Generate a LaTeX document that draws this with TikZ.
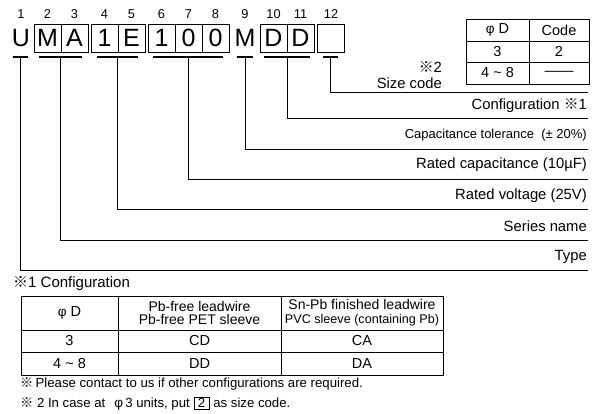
\documentclass[tikz,border=0pt]{standalone}
\usepackage{fontspec}
\setmainfont{Liberation Sans}
\newfontfamily\cjkfont{Noto Sans CJK JP}
\newcommand{\rmk}{{\cjkfont ※}}
\newcommand{\phis}{{\fontsize{13.5}{12}\selectfont φ}}
\begin{document}
\begin{tikzpicture}[x=1pt,y=-1pt,
  digit/.style={font=\fontsize{12.8}{14}\selectfont, inner sep=0pt},
  code/.style={font=\fontsize{25}{28}\selectfont, minimum width=27pt, minimum height=28pt, inner sep=0pt},
  codebox/.style={code, draw, line width=0.8pt},
  uline/.style={fill=black, minimum height=1.7pt, inner sep=0pt},
  conn/.style={line width=0.9pt},
  lbl/.style={font=\fontsize{14.8}{16}\selectfont, anchor=east, inner sep=0pt},
  tbl/.style={line width=0.8pt},
  ttxt/.style={font=\fontsize{14.5}{16}\selectfont, inner sep=0pt},
  htxt/.style={font=\fontsize{14}{13.6}\selectfont, inner sep=0pt, align=center},
  note/.style={font=\fontsize{13.2}{15}\selectfont, anchor=west, inner sep=0pt}]
\useasboundingbox (0,0) rectangle (602,414);

% digits
\foreach \n/\x in {1/21,2/47.5,3/74.5,4/104.5,5/131.5,6/161.5,7/188.5,8/215.5,9/245,10/273.5,11/300.5,12/331}
  \node[digit] (d\n) at (\x,14) {\n};

% code letters
\node[code] (cU) at (21,38) {U};
\node[codebox] (cM) at (47.5,38) {M};
\node[codebox] (cA) at (74.5,38) {A};
\node[codebox] (c1) at (104.5,38) {1};
\node[codebox] (cE) at (131.5,38) {E};
\node[codebox] (c6) at (161.5,38) {1};
\node[codebox] (c7) at (188.5,38) {0};
\node[codebox] (c8) at (215.5,38) {0};
\node[code] (c9) at (245,38) {M};
\node[codebox] (c10) at (273.5,38) {D};
\node[codebox] (c11) at (300.5,38) {D};
\node[codebox] (c12) at (331,38) {};

% underlines
\node[uline, minimum width=15pt] (ulU) at (20.5,57) {};
\node[uline, minimum width=43pt] (ulMA) at (60.5,57) {};
\node[uline, minimum width=41pt] (ul1E) at (117.5,57) {};
\node[uline, minimum width=70pt] (ul100) at (188,57) {};
\node[uline, minimum width=16pt] (ulM) at (245,57) {};
\node[uline, minimum width=46pt] (ulDD) at (287,57) {};
\node[uline, minimum width=15pt] (ul12) at (330.5,57) {};

% connector ends
\coordinate (eSize) at (588,92);
\coordinate (eCfg) at (588,118);
\coordinate (eTol) at (588,149);
\coordinate (eCap) at (588,179);
\coordinate (eVolt) at (588,209);
\coordinate (eSer) at (588,240);
\coordinate (eType) at (588,270);

\draw[conn] (ul12.center) |- (eSize);
\draw[conn] (ulDD.center) |- (eCfg);
\draw[conn] (ulM.center) |- (eTol);
\draw[conn] (ul100.center) |- (eCap);
\draw[conn] (ul1E.center) |- (eVolt);
\draw[conn] (ulMA.center) |- (eSer);
\draw[conn] (ulU.center) |- (eType);

% labels
\node[lbl] (lCfg) at (587,106) {Configuration \rmk1};
\node[lbl, font=\fontsize{13}{15}\selectfont] (lTol) at (587,135) {Capacitance tolerance\ \ (± 20\%)};
\node[lbl] (lCap) at (587,165) {Rated capacitance (10µF)};
\node[lbl] (lVolt) at (587,196) {Rated voltage (25V)};
\node[lbl] (lSer) at (587,226) {Series name};
\node[lbl] (lType) at (587,257) {Type};
\node[lbl] (lS2) at (442,67.5) {\rmk2};
\node[lbl] (lSize) at (442,83.5) {Size code};

% size code table
\draw[tbl] (466,19) rectangle (589,84);
\draw[tbl] (529,19) -- (529,84);
\draw[tbl] (466,41) -- (589,41);
\draw[tbl] (466,62) -- (589,62);
\node[ttxt] (sH1) at (497.5,30) {\phis\ D};
\node[ttxt] (sH2) at (559,30) {Code};
\node[ttxt] (s11) at (497.5,51.5) {3};
\node[ttxt] (s12) at (559,51.5) {2};
\node[ttxt] (s21) at (497.5,73) {4 \textasciitilde\ 8};
\node[ttxt] (s22) at (559,73) {——};

% configuration table
\node[ttxt, anchor=west, font=\fontsize{15}{16}\selectfont] (cfgT) at (13,284) {\rmk1 Configuration};
\draw[tbl] (21,296) rectangle (443,375);
\draw[tbl] (118,296) -- (118,375);
\draw[tbl] (281,296) -- (281,375);
\draw[tbl] (21,330) -- (443,330);
\draw[tbl] (21,352) -- (443,352);
\node[ttxt] (tH1) at (69.5,313) {\phis\ D};
\node[htxt] (tH2) at (199.5,313) {Pb-free leadwire\\Pb-free PET sleeve};
\node[htxt] (tH3) at (362,313) {Sn-Pb finished leadwire\\{\fontsize{12.6}{13.6}\selectfont PVC sleeve (containing Pb)}};
\node[ttxt] (t11) at (69.5,341) {3};
\node[ttxt] (t12) at (199.5,341) {CD};
\node[ttxt] (t13) at (362,341) {CA};
\node[ttxt] (t21) at (69.5,363.5) {4 \textasciitilde\ 8};
\node[ttxt] (t22) at (199.5,363.5) {DD};
\node[ttxt] (t23) at (362,363.5) {DA};

% notes
\node[note] (n1) at (20,384) {\rmk\,Please contact to us if other configurations are required.};
\node[note] (n2) at (20,404) {\rmk\ 2 In case at\hspace{9pt}\phis\,3 units, put {\setlength{\fboxsep}{0.6pt}\setlength{\fboxrule}{0.8pt}\fbox{\kern3pt 2\kern3pt}} as size code.};
\end{tikzpicture}
\end{document}
